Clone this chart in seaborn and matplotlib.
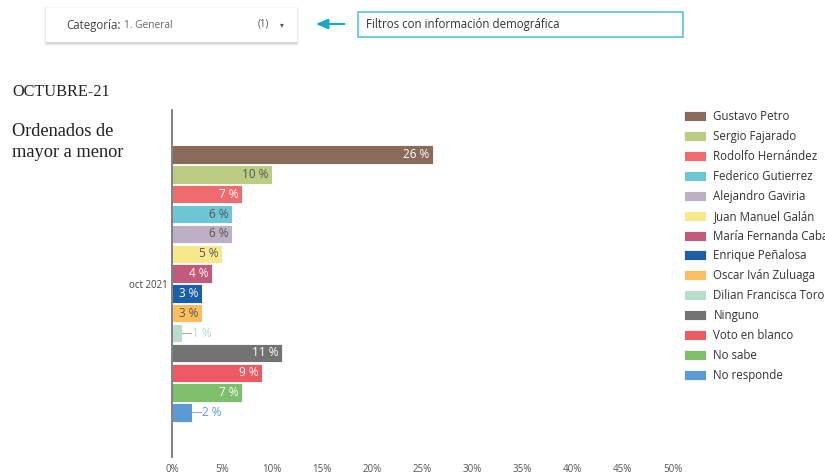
import matplotlib
matplotlib.use("Agg")
import matplotlib.pyplot as plt
import matplotlib.patches as mpatches
import seaborn as sns
import pandas as pd

# ---- data ----
period = ["oct 2021"]
candidates = ["Gustavo Petro", "Sergio Fajarado", "Rodolfo Hernández", "Federico Gutierrez",
              "Alejandro Gaviria", "Juan Manuel Galán", "María Fernanda Cabal", "Enrique Peñalosa",
              "Oscar Iván Zuluaga", "Dilian Francisca Toro", "Ninguno", "Voto en blanco",
              "No sabe", "No responde"]
values = [26, 10, 7, 6, 6, 5, 4, 3, 3, 1, 11, 9, 7, 2]
colors = ["#8A6A5A", "#BACD82", "#EF6B6E", "#6CC6D6", "#BEB0C4", "#F8E88C", "#C25A7A",
          "#1A5FA8", "#FDBE5E", "#B8DECB", "#737373", "#EE5A63", "#7DBF6A", "#5B9BD5"]
label_dark = [False, True, False, True, True, True, False, False, True, True, False, False, False, False]
xticks = [0, 5, 10, 15, 20, 25, 30, 35, 40, 45, 50]
xtick_labels = [f"{t}%" for t in xticks]

df = pd.DataFrame({"periodo": period * len(candidates), "candidato": candidates, "valor": values})

sns.set_theme(style="white")
plt.rcParams["font.family"] = ["Open Sans", "DejaVu Sans"]

W, H = 825, 475
fig = plt.figure(figsize=(W / 100, H / 100), dpi=100)
ax = fig.add_axes([172 / W, 1 - 457 / H, (673 - 172) / W, (457 - 110) / H])

sns.barplot(data=df, y="periodo", x="valor", hue="candidato", hue_order=candidates,
            palette=colors, saturation=1, orient="h", width=0.8, gap=0.08, ax=ax,
            edgecolor="white", linewidth=0.6)

ax.set_xlim(0, 50)
ax.set_ylim(0.5, -0.5)
ax.set_xticks(xticks)
ax.set_xticklabels(xtick_labels, fontsize=7, color="#555555")
ax.tick_params(axis="x", length=0, pad=5)
ax.tick_params(axis="y", length=0, pad=3, labelsize=7, labelcolor="#444444")
ax.set_xlabel("")
ax.set_ylabel("")
for s in ["top", "right", "bottom"]:
    ax.spines[s].set_visible(False)
ax.spines["left"].set_color("#777777")
ax.spines["left"].set_linewidth(1.3)

# bar labels
for cont, val, col, dark in zip(ax.containers, values, colors, label_dark):
    for bar in cont:
        w = bar.get_width()
        yc = bar.get_y() + bar.get_height() / 2
        if w >= 3:
            ax.text(w - 0.35, yc, f"{val} %", ha="right", va="center", fontsize=8.5,
                    color="#555555" if dark else "white")
        else:
            ax.plot([w, w + 0.9], [yc, yc], color="#aaaaaa", lw=0.8)
            ax.text(w + 1.0, yc, f"{val} %", ha="left", va="center", fontsize=8.5, color=col)

# legend
sns.move_legend(ax, "upper left", bbox_to_anchor=(684 / W, 1 - 110 / H),
                bbox_transform=fig.transFigure, frameon=False, title=None,
                fontsize=8.3, handlelength=1.95, handleheight=0.95, handletextpad=0.6,
                labelspacing=0.6, borderaxespad=0, borderpad=0)
leg = ax.get_legend()
for t in leg.get_texts():
    t.set_color("#333333")

# titles
serif = ["Liberation Serif", "DejaVu Serif"]
fig.text(12 / W, 1 - 92 / H, "OCTUBRE-21", fontsize=11.7, family=serif,
         color="#222222", va="center", ha="left")
fig.text(12 / W, 1 - 131 / H, "Ordenados de", fontsize=13.2, family=serif,
         color="#222222", va="center", ha="left")
fig.text(12 / W, 1 - 152 / H, "mayor a menor", fontsize=13.2, family=serif,
         color="#222222", va="center", ha="left")

# filter box with soft shadow
tf = fig.transFigure
for i, a in enumerate([0.03, 0.05, 0.08]):
    off = 3 - i
    fig.patches.append(mpatches.Rectangle(((46 - off + 1) / W, 1 - (43 + off) / H),
                                          (251 + 2 * off - 2) / W, (34 + 2 * off - 1) / H,
                                          transform=tf, facecolor="black", alpha=a,
                                          edgecolor="none"))
fig.patches.append(mpatches.Rectangle((46 / W, 1 - 42 / H), 251 / W, 34 / H, transform=tf,
                                      facecolor="white", edgecolor="none"))
t1 = fig.text(66 / W, 1 - 25 / H, "Categoría:", fontsize=8.3, color="#444444",
              va="center", ha="left")
fig.canvas.draw()
bb = t1.get_window_extent()
fig.text(bb.x1 / W + 3 / W, 1 - 25 / H, "1. General", fontsize=7.3, color="#666666",
         va="center", ha="left")
fig.text(258 / W, 1 - 24.5 / H, "(1)", fontsize=7, color="#555555", va="center", ha="left")
fig.text(280 / W, 1 - 24.5 / H, "▾", fontsize=5.5, color="#555555", va="center", ha="left",
         family="DejaVu Sans")

# arrow
fig.patches.append(mpatches.FancyArrowPatch((347 / W, 1 - 24 / H), (313 / W, 1 - 24 / H),
                                            transform=tf, arrowstyle="-|>,head_length=7,head_width=3",
                                            color="#1BA8C4", lw=1.6, mutation_scale=1))
# info box
fig.patches.append(mpatches.Rectangle((358 / W, 1 - 37 / H), 325 / W, 25 / H, transform=tf,
                                      facecolor="white", edgecolor="#5BC6D6", lw=1.2))
fig.text(366 / W, 1 - 24.5 / H, "Filtros con información demográfica", fontsize=8.3,
         color="#333333", va="center", ha="left")

fig.savefig("out.png", dpi=100)
